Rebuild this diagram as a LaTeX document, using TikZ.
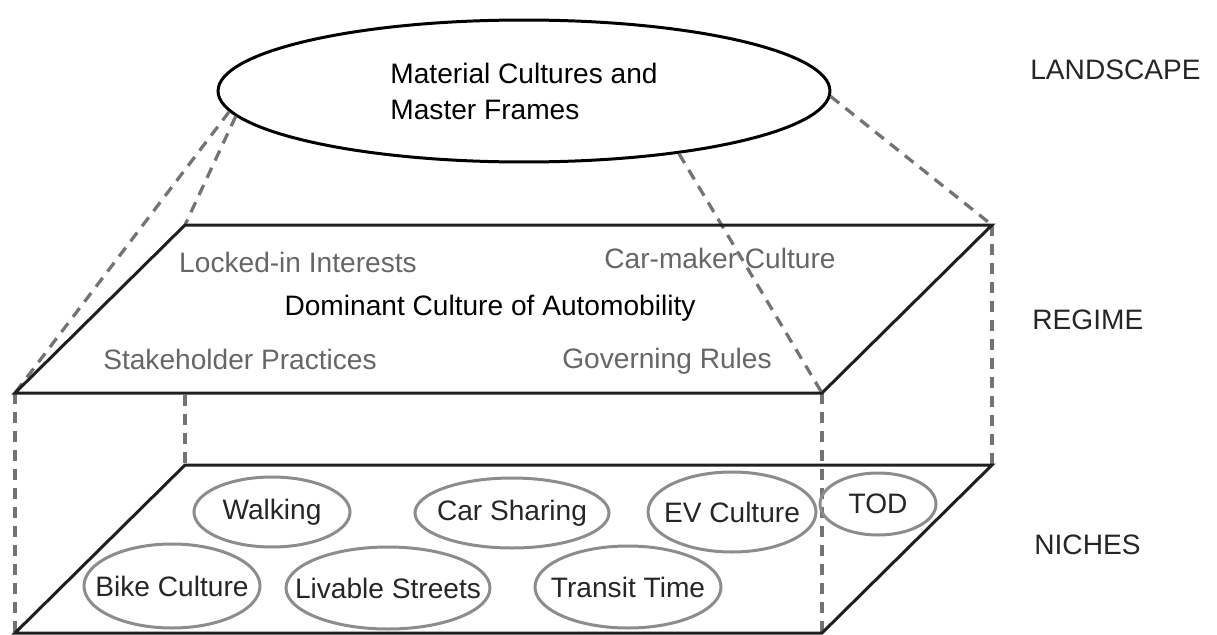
\documentclass[tikz,border=0pt]{standalone}
\usepackage{fontspec}
\setmainfont{Liberation Sans}
\usetikzlibrary{shapes.geometric}
\begin{document}
\begin{tikzpicture}[x=0.02cm,y=-0.02cm,font=\fontsize{16}{20.5}\selectfont,
  edge/.style={line width=0.06cm,black!88,line join=miter},
  guide/.style={line width=0.065cm,black!55,dash pattern=on 0.22cm off 0.16cm},
  niche/.style={inner sep=0pt,text=black!85},
  nicheline/.style={draw=black!45,line width=0.06cm},
  factor/.style={inner sep=0pt,text=black!60},
  level/.style={anchor=west,inner sep=0pt,text=black!85}]
\useasboundingbox (0,0) rectangle (1217,635);
% landscape
\node[ellipse,draw,line width=0.06cm,minimum width=12.24cm,minimum height=2.84cm,align=left] (land) at (524,91) {Material Cultures and\\Master Frames};
% corners of the two planes
\coordinate (rtl) at (185,225); \coordinate (rtr) at (992,225);
\coordinate (rbr) at (822,393); \coordinate (rbl) at (15,393);
\coordinate (rbm) at (185,393);
\coordinate (ntl) at (185,465); \coordinate (ntr) at (992,465);
\coordinate (nbr) at (822,633); \coordinate (nbl) at (15,633);
% projection lines
\draw[guide] (land.184)--(rbl);
\draw[guide] (land.185.2)--(rtl);
\draw[guide] (land.359)--(rtr);
\draw[guide] (land.338)--(rbr);
\draw[guide] (rbl)--(nbl);
\draw[guide] (rbr)--(nbr);
\draw[guide] (rtr)--(ntr);
\draw[guide,dash phase=0.34cm] (rbm)--(ntl);
% regime
\draw[edge] (rtl)--(rtr)--(rbr)--(rbl)--cycle;
\node[factor] (lock) at (298,262) {Locked-in Interests};
\node[factor] (maker) at (720,258) {Car-maker Culture};
\node[inner sep=0pt] (dom) at (490,308) {Dominant Culture of Automobility};
\node[factor] (stake) at (240,359) {Stakeholder Practices};
\node[factor] (rules) at (667,361) {Governing Rules};
% niches
\draw[edge] (ntl)--(ntr)--(nbr)--(nbl)--cycle;
\foreach \n/\x/\y/\rx/\ry/\t in {walk/272/512/78/35/Walking,share/512/513/97/35/Car Sharing,
  ev/732/512/84/40/EV Culture,tod/878/504/58/31/TOD,bike/172/586/88/42/Bike Culture,
  live/388/588/102/41/Livable Streets,transit/628/587/93/41/Transit Time}{
  \node[niche] (\n) at (\x,\y) {\t};
  \draw[nicheline] (\n.center) ellipse [x radius=\rx, y radius=\ry];
}
% level names
\node[level] (landscape) at (1030,70) {LANDSCAPE};
\node[level] (regime) at (1032,320) {REGIME};
\node[level] (nich) at (1034,545) {NICHES};
\end{tikzpicture}
\end{document}
